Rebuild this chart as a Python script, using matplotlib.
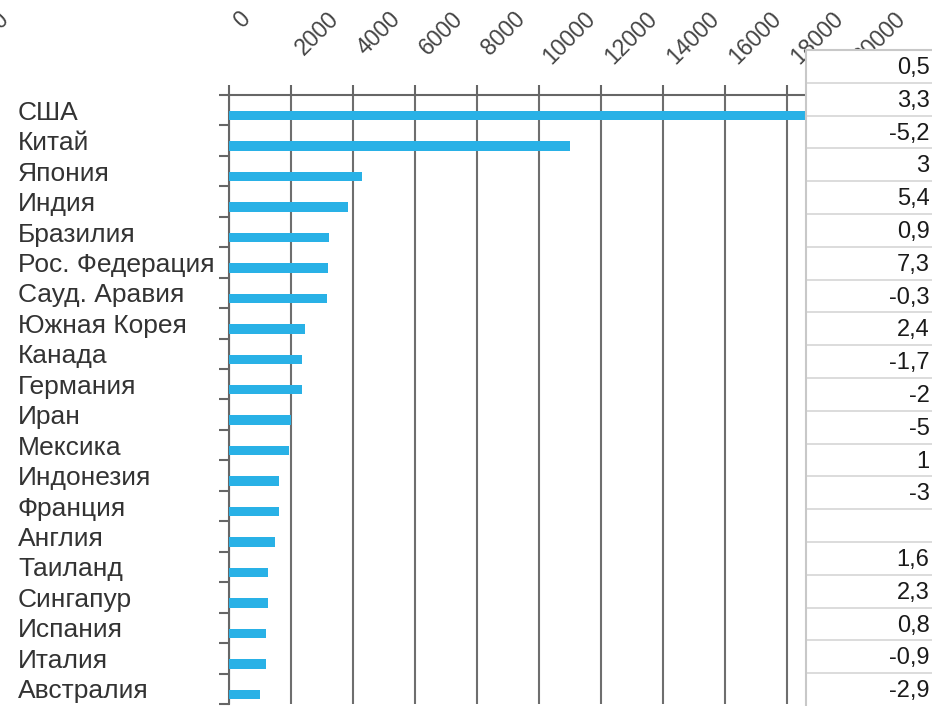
import numpy as np
import matplotlib
matplotlib.use('Agg')
import matplotlib.pyplot as plt

plt.rcParams['font.family'] = ['Liberation Sans', 'DejaVu Sans']

# Потребление нефти, тыс. барр./сутки
countries = ['США', 'Китай', 'Япония', 'Индия', 'Бразилия', 'Рос. Федерация',
             'Сауд. Аравия', 'Южная Корея', 'Канада', 'Германия', 'Иран',
             'Мексика', 'Индонезия', 'Франция', 'Англия', 'Таиланд',
             'Сингапур', 'Испания', 'Италия', 'Австралия']
consumption = [19000, 11000, 4300, 3840, 3230, 3180, 3160, 2450, 2370, 2340,
               2000, 1950, 1620, 1610, 1490, 1270, 1270, 1200, 1190, 1000]

# Рост, % (столбец таблицы справа)
growth = [0.5, 3.3, -5.2, 3, 5.4, 0.9, 7.3, -0.3, 2.4, -1.7, -2, -5, 1, -3,
          None, 1.6, 2.3, 0.8, -0.9, -2.9]

xticks = list(range(0, 20001, 2000))

W, H = 932, 706
fig = plt.figure(figsize=(W / 100, H / 100), dpi=100)

ax = fig.add_axes([229 / W, 2 / H, 620 / W, 609 / H])
y = np.arange(len(countries))
ax.barh(y + 0.18, consumption, height=0.31, color='#29b1e6', zorder=3)

ax.set_xlim(0, 20000)
ax.set_ylim(len(countries) - 0.5, -0.5)

# ось X сверху, подписи под 45°
ax.xaxis.tick_top()
ax.set_xticks(xticks)
ax.tick_params(axis='x', direction='out', length=7, width=1.5, color='#666666',
               labelsize=16.5, labelcolor='#444444', pad=56)
for lbl in ax.get_xticklabels():
    lbl.set_rotation(45)
    lbl.set_ha('left')
    lbl.set_va('top')

# категории
ax.set_yticks(y, countries)
ax.set_yticks(np.arange(-0.5, len(countries), 1), minor=True)
ax.tick_params(axis='y', which='major', length=0, pad=152, labelsize=19,
               labelcolor='#333333')
ax.tick_params(axis='y', which='minor', direction='out', length=7, width=1.5,
               color='#666666')
for lbl in ax.get_yticklabels():
    lbl.set_ha('left')

ax.grid(axis='x', color='#6e6e6e', lw=1.5)
ax.set_axisbelow(True)
for s in ['right', 'bottom']:
    ax.spines[s].set_visible(False)
for s in ['left', 'top']:
    ax.spines[s].set_color('#666666')
    ax.spines[s].set_linewidth(1.5)

# обрезанная подпись слева вверху (в оригинале видна лишь частично)
fig.text(0.0, 1 - 21 / H, '0', rotation=45, ha='center', va='center',
         fontsize=16.5, color='#444444')

# таблица справа
tab = fig.add_axes([806 / W, 0, 126 / W, 656 / H])
tab.set_xlim(0, 1)
tab.set_ylim(len(growth), 0)
tab.set_facecolor('white')
tab.set_xticks([])
tab.set_yticks([])
for s in ['right', 'bottom']:
    tab.spines[s].set_visible(False)
for s in ['left', 'top']:
    tab.spines[s].set_color('#c8c8c8')
    tab.spines[s].set_linewidth(1.5)
for i in range(1, len(growth)):
    tab.axhline(i, color='#d6d6d6', lw=1.2)
for i, v in enumerate(growth):
    if v is not None:
        tab.text(0.98, i + 0.55, f'{v:g}'.replace('.', ','), ha='right',
                 va='center', fontsize=17, color='#1a1a1a')

fig.savefig('out.png', dpi=100)
